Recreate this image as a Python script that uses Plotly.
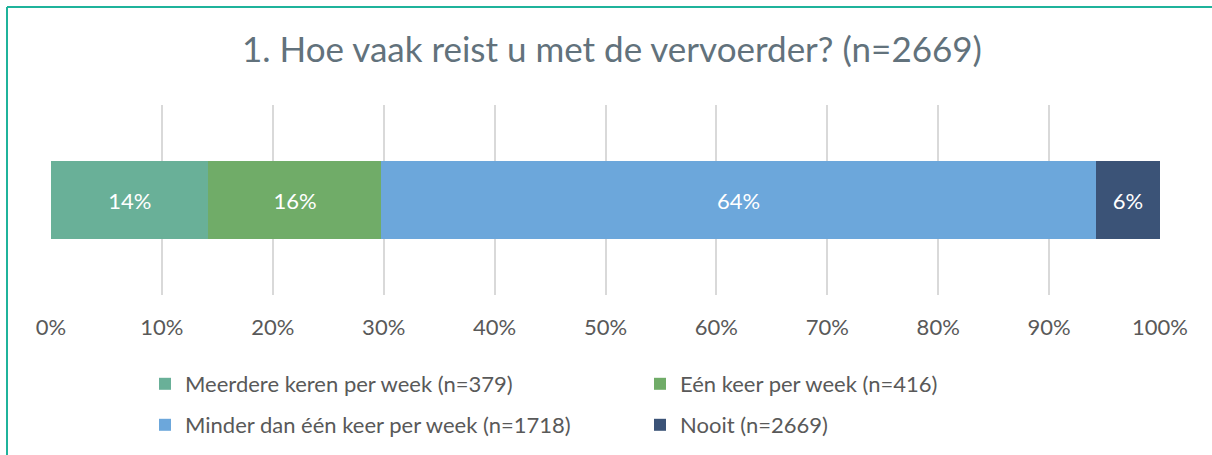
import plotly.graph_objects as go

categories = ["Meerdere keren per week (n=379)", "Eén keer per week (n=416)",
              "Minder dan één keer per week (n=1718)", "Nooit (n=2669)"]
values = [14.2, 15.6, 64.4, 5.8]
colors = ["#69B098", "#70AC68", "#6CA7DB", "#3B5377"]
legend_ids = ["legend", "legend", "legend2", "legend2"]
tick_vals = [0, 10, 20, 30, 40, 50, 60, 70, 80, 90, 100]
tick_text = [f"{v}%" for v in tick_vals]

FONT = "Lato"
W, H = 1212, 455
L, R, T, B = 51, 52, 105, 160

fig = go.Figure()
for name, v, c, lg in zip(categories, values, colors, legend_ids):
    fig.add_trace(go.Bar(
        x=[v], y=[""], orientation="h", name=name,
        marker=dict(color=c, line=dict(width=0)),
        text=[f"{v:.0f}%"], textposition="inside", insidetextanchor="middle",
        textfont=dict(color="white", size=22, family=FONT),
        width=0.41, legend=lg, hoverinfo="skip",
    ))

pw = W - L - R
ph = H - T - B
def px_x(p):
    return (p - L) / pw
def px_y(p):
    return 1 + (T - p) / ph

leg_common = dict(orientation="h", xref="container", yref="container",
                  xanchor="left", yanchor="middle", entrywidth=450,
                  entrywidthmode="pixels", traceorder="normal",
                  font=dict(family=FONT, size=22, color="#595959"),
                  bgcolor="rgba(0,0,0,0)", borderwidth=0)

fig.update_layout(
    width=W, height=H,
    barmode="stack",
    margin=dict(l=L, r=R, t=T, b=B, autoexpand=False),
    paper_bgcolor="white", plot_bgcolor="white",
    title=dict(text="1. Hoe vaak reist u met de vervoerder? (n=2669)",
               x=612 / W, xanchor="center", y=1 - 50 / H, yanchor="middle",
               font=dict(family=FONT, size=35, color="#62727C")),
    xaxis=dict(range=[0, 100], tickvals=tick_vals, ticktext=tick_text,
               showgrid=True, gridcolor="#D9D9D9", gridwidth=2,
               zeroline=False, showline=False, ticks="",
               tickfont=dict(family=FONT, size=22, color="#595959"),
               ticklabelstandoff=17, fixedrange=True),
    yaxis=dict(range=[-0.5, 0.5], showticklabels=False, showgrid=False,
               zeroline=False, fixedrange=True),
    legend=dict(x=145 / W, y=1 - 384 / H, **leg_common),
    legend2=dict(x=145 / W, y=1 - 425 / H, **leg_common),
    showlegend=True,
    shapes=[
        dict(type="line", xref="paper", yref="paper",
             x0=px_x(7), x1=px_x(1230), y0=px_y(7), y1=px_y(7),
             line=dict(color="#1FB39B", width=2)),
        dict(type="line", xref="paper", yref="paper",
             x0=px_x(7), x1=px_x(7), y0=px_y(7), y1=px_y(470),
             line=dict(color="#1FB39B", width=2)),
    ],
)

fig.write_html("out.html", config={"displayModeBar": False},
               post_script="document.body.style.margin='0';")
